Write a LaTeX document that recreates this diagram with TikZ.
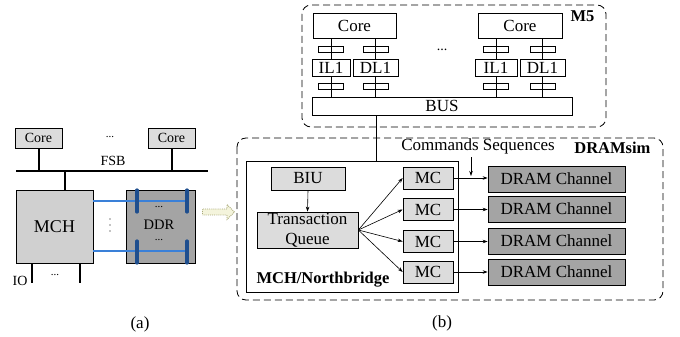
\documentclass[tikz,border=0pt]{standalone}
\usepackage{fontspec}
\setmainfont{Liberation Serif}
\usetikzlibrary{arrows.meta,shapes.arrows,calc}

\definecolor{boxlight}{HTML}{DCDCDC}
\definecolor{boxmid}{HTML}{D0D0D0}
\definecolor{boxdark}{HTML}{A4A4A4}
\definecolor{linkblue}{HTML}{3A80D8}
\definecolor{barblue}{HTML}{1E4E8E}
\definecolor{hollowedge}{HTML}{A8A878}
\definecolor{hollowfill}{HTML}{F4F4DC}

\tikzset{
  x=1pt, y=-1pt,
  pbox/.style={draw, line width=0.7pt, inner sep=0pt, align=center},
  smalltxt/.style={font=\fontsize{14}{15}\selectfont},
  bigtxt/.style={font=\fontsize{17}{20}\selectfont},
  boldtxt/.style={font=\fontsize{16.5}{17}\selectfont\bfseries},
  dotrow/.style={inner sep=0pt, font=\fontsize{11}{11}\selectfont},
  latch/.style={draw, line width=0.6pt, minimum width=25pt, minimum height=6pt, inner sep=0pt},
  groupbox/.style={draw, dashed, dash pattern=on 7pt off 4pt, line width=0.8pt, rounded corners=9pt},
  arr/.style={-{Stealth[length=5pt,width=3.5pt]}, line width=0.6pt},
  thickbus/.style={line width=2.2pt},
}

\begin{document}
\begin{tikzpicture}
\useasboundingbox (0,0) rectangle (680,337);

% ---------------- (a) conventional system ----------------
\node[pbox, smalltxt, fill=boxlight, minimum width=47pt, minimum height=20pt] (coreA) at (38.5,138) {Core};
\node[pbox, smalltxt, fill=boxlight, minimum width=47pt, minimum height=20pt] (coreB) at (171.5,138) {Core};
\node[dotrow] (dotsA) at (110,137) {...};

\coordinate (fsbW) at (16,171);
\coordinate (fsbE) at (208,171);
\draw[thickbus] (fsbW) -- (fsbE);
\node[smalltxt] (fsb) at (113,161) {FSB};

\node[pbox, font=\fontsize{18}{20}\selectfont, fill=boxmid, minimum width=77pt, minimum height=73pt] (mch) at (54.5,226.5) {MCH};
\node[pbox, fill=boxdark, minimum width=69pt, minimum height=73pt] (ddr) at (160.5,226.5) {};
\node[inner sep=0pt, font=\fontsize{14.5}{16}\selectfont] (ddrlbl) at (159,224.5) {DDR};

\draw[line width=2pt] (coreA.south) -- (coreA.south |- fsbW);
\draw[line width=2pt] (coreB.south) -- (coreB.south |- fsbW);
\coordinate (mchtap) at (65,171);
\draw[line width=2pt] (mchtap) -- (mchtap |- mch.north);

% memory channels between MCH and DDR
\coordinate (chTopEnd) at (187,201);
\coordinate (chBotEnd) at (187,251);
\draw[linkblue, line width=1.6pt] (mch.east |- chTopEnd) -- (chTopEnd);
\draw[linkblue, line width=1.6pt] (mch.east |- chBotEnd) -- (chBotEnd);
\foreach \bx in {137,187} {
  \draw[barblue, line width=3.2pt, line cap=round] (\bx,190) -- (\bx,212);
  \draw[barblue, line width=3.2pt, line cap=round] (\bx,241) -- (\bx,263);
}
\node[dotrow] (ddrdotsT) at (159,207) {...};
\node[dotrow] (ddrdotsB) at (159,240) {...};
% vertical ellipsis between the two channels
\foreach \vy in {219,225,231} \fill (110,\vy) circle (0.7pt);

% I/O ports
\coordinate (io1) at (32,283);
\coordinate (io2) at (80,283);
\draw[line width=2pt] (io1 |- mch.south) -- (io1);
\draw[line width=2pt] (io2 |- mch.south) -- (io2);
\node[smalltxt] (iolbl) at (20,281) {IO};
\node[dotrow] (iodots) at (55,275) {...};

\node[bigtxt] (capA) at (140,324) {(a)};

% hollow transition arrow
\node[single arrow, draw=hollowedge, fill=hollowfill, densely dotted, line width=0.9pt,
      minimum width=15pt, single arrow head extend=3pt, minimum height=32pt, inner sep=1.5pt]
      (trans) at (217,212) {};

% ---------------- (b) M5 + DRAMsim ----------------
\draw[groupbox] (302,5) rectangle (606,127);
\node[boldtxt, anchor=east] (m5lbl) at (598,16) {M5};

\node[pbox, bigtxt, fill=white, minimum width=83pt, minimum height=25pt] (core1) at (354.5,25.5) {Core};
\node[pbox, bigtxt, fill=white, minimum width=84pt, minimum height=25pt] (core2) at (520,25.5) {Core};
\node[dotrow, font=\fontsize{14}{14}\selectfont] (dotsB) at (442,50) {...};

\node[pbox, bigtxt, fill=white, minimum width=38pt, minimum height=17pt] (il1a) at (331,67.5) {IL1};
\node[pbox, bigtxt, fill=white, minimum width=45pt, minimum height=17pt] (dl1a) at (375.5,67.5) {DL1};
\node[pbox, bigtxt, fill=white, minimum width=42pt, minimum height=17pt] (il1b) at (496,67.5) {IL1};
\node[pbox, bigtxt, fill=white, minimum width=45pt, minimum height=17pt] (dl1b) at (542.5,67.5) {DL1};

\node[pbox, bigtxt, fill=white, minimum width=260pt, minimum height=18pt] (bus) at (442,106) {BUS};

\foreach \cache/\core in {il1a/core1, dl1a/core1, il1b/core2, dl1b/core2} {
  \draw[line width=0.6pt] (\cache.north |- \core.south) -- (\cache.north);
  \draw[line width=0.6pt] (\cache.south) -- (\cache.south |- bus.north);
  \node[latch] at ($(\cache.north)+(0,-9.5)$) {};
  \node[latch] at ($(\cache.south)+(0,10)$) {};
}

% DRAMsim group
\draw[groupbox] (237,138) rectangle (663,300);
\node[boldtxt, anchor=east] (dslbl) at (654,148) {DRAMsim};

\node[pbox, minimum width=212pt, minimum height=131pt] (nb) at (352,226.5) {};
\node[boldtxt, anchor=south west] (nblbl) at (253,291) {MCH/Northbridge};

\draw[line width=0.7pt] (bus.south -| 376,0) -- (nb.north -| 376,0);

\node[pbox, bigtxt, fill=boxlight, minimum width=74pt, minimum height=23pt] (biu) at (308,178.5) {BIU};
\node[pbox, bigtxt, fill=boxlight, minimum width=101pt, minimum height=36pt, text width=95pt] (tq) at (307.5,230) {Transaction\\Queue};
\draw[arr] (biu.south) -- (tq.north);

\foreach \i/\yy in {1/178, 2/209.5, 3/241.5, 4/272} {
  \node[pbox, bigtxt, fill=boxlight, minimum width=50pt, minimum height=22pt] (mc\i) at (428,\yy) {MC};
  \draw[arr] (tq.east) -- (mc\i.west);
}
\foreach \i/\yy in {1/179, 2/209, 3/241, 4/272} {
  \node[pbox, bigtxt, fill=boxdark, minimum width=137pt, minimum height=26pt] (ch\i) at (556.5,\yy) {DRAM Channel};
  \draw[arr] (mc\i.east) -- (ch\i.west |- mc\i.east);
}

\node[bigtxt] (cmdlbl) at (478,146) {Commands Sequences};
\coordinate (cmdhit) at (471,176);
\draw[arr] (cmdhit |- cmdlbl.south) -- (cmdhit);

\node[bigtxt] (capB) at (442,323) {(b)};
\end{tikzpicture}
\end{document}
